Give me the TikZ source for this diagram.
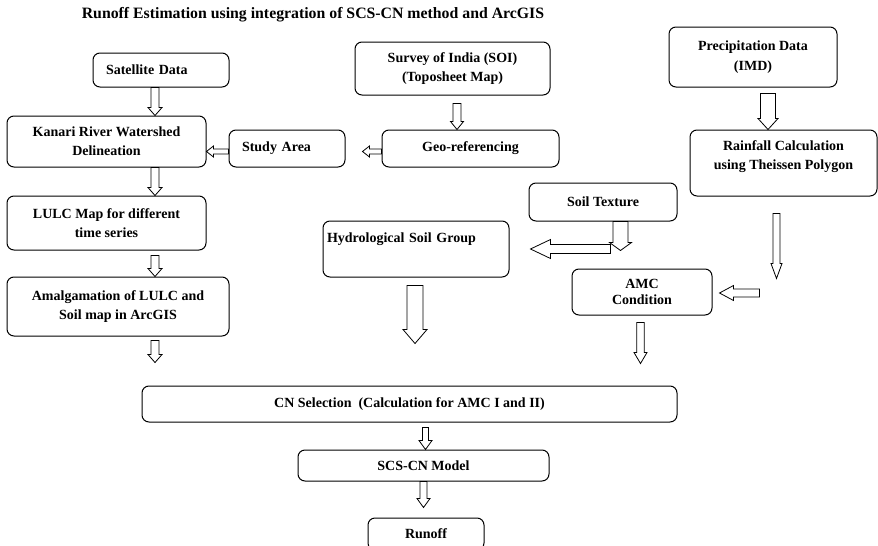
\documentclass[tikz,border=0pt]{standalone}
\usepackage{fontspec}
\setmainfont{Liberation Serif}
\usepackage{tikz}
\usetikzlibrary{calc}

\tikzset{
    box/.style={draw, line width=1pt, rounded corners=7pt, inner sep=0pt, align=center,
        font=\bfseries\fontsize{14}{19}\selectfont},
    lbox/.style={box, align=left, inner xsep=13pt},
    hollow/.style={draw, line width=0.8pt, line join=miter, fill=white}
}

% hollow block arrow: [options]{from}{to}{half shaft}{half head}{head length}
\newcommand{\hollowarrow}[6][]{%
    \coordinate (ha-s) at (#2);
    \coordinate (ha-e) at (#3);
    \coordinate (ha-b) at ($(ha-e)!#6!(ha-s)$);
    \draw[hollow,#1] ($(ha-s)!#4!90:(ha-e)$) -- ($(ha-b)!#4!90:(ha-e)$)
        -- ($(ha-b)!#5!90:(ha-e)$) -- (ha-e) -- ($(ha-b)!#5!-90:(ha-e)$)
        -- ($(ha-b)!#4!-90:(ha-e)$) -- ($(ha-s)!#4!-90:(ha-e)$) -- cycle;
}

\begin{document}
\begin{tikzpicture}[x=1pt,y=-1pt]
    \useasboundingbox (0,0) rectangle (878,546);

    \node[font=\bfseries\fontsize{15.8}{18}\selectfont] (title) at (313,15)
        {Runoff Estimation using integration of SCS-CN method and ArcGIS};

    % Draw the boxes
    \node[lbox, minimum width=136, minimum height=34, text width=110] (sat) at (161,70) {Satellite Data};
    \node[box, minimum width=195, minimum height=53] (survey) at (452.5,68.5) {Survey of India (SOI)\\(Toposheet Map)};
    \node[box, minimum width=168, minimum height=60] (precip) at (753,57) {Precipitation Data\\[1pt](IMD)};
    \node[box, minimum width=199, minimum height=51] (kanari) at (106.5,141.5) {Kanari River Watershed\\Delineation};
    \node[lbox, minimum width=116, minimum height=37, text width=90] (study) at (287,148.5) {Study Area};
    \node[box, minimum width=177, minimum height=37] (geo) at (470.5,148.5) {Geo-referencing};
    \node[box, minimum width=187, minimum height=66, text depth=16pt] (rain) at (783.5,163) {Rainfall Calculation\\using Theissen Polygon};
    \node[box, minimum width=199, minimum height=54] (lulc) at (106.5,223) {LULC Map for different\\time series};
    \node[box, minimum width=222, minimum height=59] (amal) at (118,306.5) {Amalgamation of LULC and\\Soil map in ArcGIS};
    \node[box, minimum width=148, minimum height=38] (soil) at (603,202) {Soil Texture};
    \node[lbox, minimum width=186, minimum height=56, inner xsep=4pt, text width=178, text depth=22pt] (hydro) at (416,249) {Hydrological Soil Group};
    \node[box, minimum width=140, minimum height=46] (amc) at (642,292) {AMC\\[-3pt]Condition};
    \node[box, minimum width=535, minimum height=36] (cn) at (409.5,404) {CN Selection~~(Calculation for AMC I and II)};
    \node[box, minimum width=251, minimum height=31] (scs) at (423.5,465.5) {SCS-CN Model};
    \node[box, minimum width=116, minimum height=32] (runoff) at (426,534) {Runoff};

    % columns and rows of the arrows
    \coordinate (lcol) at (155,0);
    \coordinate (scol) at (457,0);
    \coordinate (pcol) at (768,0);
    \coordinate (rcol) at (776.5,0);
    \coordinate (tcol) at (620.5,0);
    \coordinate (hcol) at (415,0);
    \coordinate (acol) at (640.5,0);
    \coordinate (ccol) at (425.5,0);
    \coordinate (ocol) at (423.5,0);
    \coordinate (srow) at (0,151.5);

    % Draw the arrows
    \hollowarrow{sat.south -| lcol}{kanari.north -| lcol}{4pt}{7pt}{8pt}
    \hollowarrow{kanari.south -| lcol}{lulc.north -| lcol}{4pt}{7pt}{8pt}
    \hollowarrow{$(lulc.south -| lcol)+(0,5)$}{amal.north -| lcol}{4pt}{7pt}{8pt}
    \hollowarrow{$(amal.south -| lcol)+(0,4)$}{$(amal.south -| lcol)+(0,26)$}{4pt}{7pt}{8pt}
    \hollowarrow{study.west |- srow}{kanari.east |- srow}{2.5pt}{5.5pt}{7pt}
    \hollowarrow{geo.west |- srow}{$(study.east |- srow)+(17,0)$}{2.5pt}{5.5pt}{7pt}
    \hollowarrow{$(survey.south -| scol)+(0,8)$}{geo.north -| scol}{4pt}{6.5pt}{8pt}
    \hollowarrow{$(precip.south -| pcol)+(0,6)$}{rain.north -| pcol}{7.5pt}{10pt}{11pt}
    \hollowarrow{$(rain.south -| rcol)+(0,17)$}{$(rain.south -| rcol)+(0,82)$}{3.5pt}{5.5pt}{15pt}
    \hollowarrow{$(amc.east)+(47,1)$}{$(amc.east)+(7,1)$}{4pt}{7.5pt}{14pt}
    \hollowarrow{soil.south -| tcol}{$(soil.south -| tcol)+(0,29)$}{7.5pt}{11pt}{8pt}
    \hollowarrow{$(hydro.east)+(101,0)$}{$(hydro.east)+(21,0)$}{4.5pt}{9.5pt}{20pt}
    \hollowarrow{$(hydro.south -| hcol)+(0,8)$}{$(hydro.south -| hcol)+(0,66)$}{8pt}{12pt}{14pt}
    \hollowarrow{$(amc.south -| acol)+(0,7)$}{$(amc.south -| acol)+(0,48)$}{3.7pt}{6.5pt}{11pt}
    \hollowarrow{$(cn.south -| ccol)+(0,5)$}{scs.north -| ccol}{3pt}{6.5pt}{9pt}
    \hollowarrow{scs.south -| ocol}{$(runoff.north -| ocol)+(0,-10)$}{3.5pt}{6.5pt}{9pt}
\end{tikzpicture}
\end{document}
